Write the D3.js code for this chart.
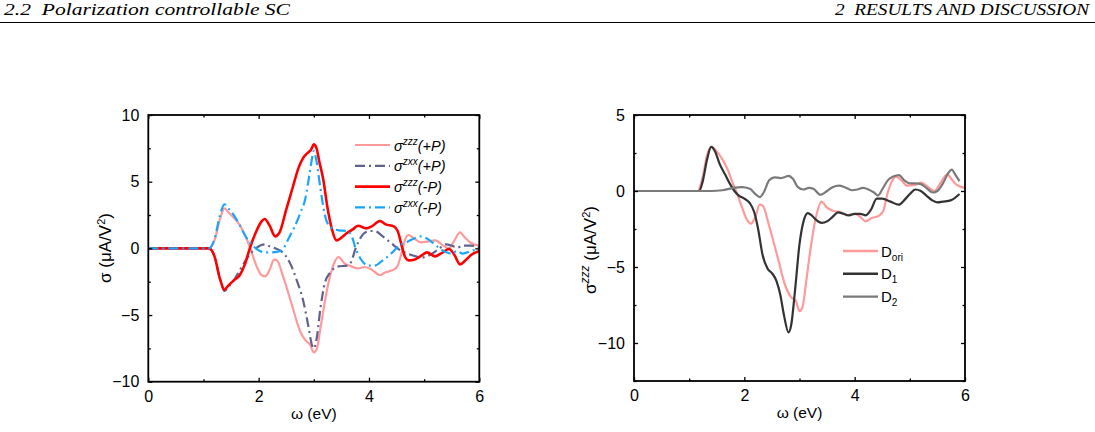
<!DOCTYPE html>
<html lang="en">
<head>
  <meta charset="UTF-8">
  <title>Polarization controllable SC</title>
  <script src="https://d3js.org/d3.v7.min.js"></script>
  <style>
    * { margin: 0; padding: 0; box-sizing: border-box; }
    body { background: #fff; font-family: "Liberation Sans", Arial, sans-serif; }
    svg text { font-family: "Liberation Sans", Arial, sans-serif; }
    .hdr { font-family: "Liberation Serif", "DejaVu Serif", serif; font-style: italic; font-size: 16.5px; white-space: pre; }
  </style>
</head>
<body>
  <svg id="fig" width="1095" height="432"></svg>
  <script>
    // ---- data: [omega (eV), sigma] ----
    const zzzPlusP = [[0,0],[1.1,0],[1.2,0.6],[1.3,2.2],[1.38,3.0],[1.45,2.7],[1.55,2.3],[1.65,1.8],[1.75,1.0],[1.85,0],[1.95,-1.2],[2.05,-2.0],[2.12,-2.1],[2.2,-1.6],[2.28,-0.85],[2.33,-0.9],[2.45,-2.2],[2.6,-4.2],[2.75,-6.2],[2.85,-6.9],[2.93,-7.2],[3.0,-7.8],[3.05,-7.6],[3.12,-6.0],[3.2,-4.0],[3.3,-2.0],[3.38,-1.0],[3.45,-0.65],[3.55,-1.1],[3.65,-1.3],[3.8,-1.5],[3.92,-1.4],[4.05,-1.6],[4.2,-2.0],[4.3,-1.8],[4.45,-1.6],[4.52,-1.3],[4.6,-0.2],[4.65,0.6],[4.72,1.0],[4.8,0.8],[4.95,0.45],[5.05,0.5],[5.2,0.6],[5.35,0.2],[5.45,0],[5.55,0.6],[5.65,1.2],[5.72,0.9],[5.85,0.4],[6.0,0.2]];
    const zxxPlusP = [[0,0],[1.1,0],[1.2,-0.6],[1.3,-2.3],[1.38,-3.2],[1.45,-2.9],[1.55,-2.4],[1.65,-1.7],[1.75,-1.0],[1.85,-0.4],[1.95,0],[2.05,0.25],[2.12,0.3],[2.2,0.15],[2.3,0],[2.4,-0.2],[2.48,-0.5],[2.58,-1.2],[2.7,-2.5],[2.8,-3.8],[2.9,-5.8],[2.97,-7.3],[3.0,-7.5],[3.05,-6.8],[3.12,-4.5],[3.2,-2.6],[3.3,-1.8],[3.45,-1.35],[3.6,-1.3],[3.68,-1.0],[3.75,-0.1],[3.85,0.8],[4.0,1.3],[4.1,1.3],[4.25,0.9],[4.4,0.4],[4.55,-0.1],[4.7,-0.4],[4.85,-0.6],[4.95,-0.7],[5.1,-0.5],[5.25,-0.1],[5.4,0.3],[5.5,0.2],[5.6,0.05],[5.7,0.2],[5.85,0.2],[6,0.05]];
    const zzzMinusP = [[0,0],[1.1,0],[1.2,-0.6],[1.3,-2.3],[1.38,-3.1],[1.45,-2.8],[1.55,-2.4],[1.66,-2.0],[1.75,-1.2],[1.84,0],[1.95,1.2],[2.05,2.0],[2.11,2.2],[2.2,1.7],[2.3,0.9],[2.38,1.2],[2.5,2.9],[2.62,4.6],[2.72,6.0],[2.81,6.8],[2.9,7.2],[2.95,7.4],[3.0,7.8],[3.05,7.5],[3.1,6.5],[3.17,5.2],[3.25,3.0],[3.33,1.4],[3.41,0.6],[3.5,0.8],[3.6,1.15],[3.7,1.4],[3.8,1.7],[3.95,1.5],[4.05,1.65],[4.2,2.05],[4.3,1.8],[4.45,1.65],[4.52,1.3],[4.6,0.1],[4.66,-0.7],[4.72,-0.9],[4.82,-0.85],[4.95,-0.55],[5.05,-0.3],[5.2,-0.6],[5.3,-0.4],[5.45,-0.05],[5.55,-0.5],[5.65,-1.2],[5.75,-0.9],[5.85,-0.5],[6,-0.2]];
    const zxxMinusP = [[0,0],[1.1,0],[1.2,0.7],[1.3,2.5],[1.38,3.3],[1.45,3.0],[1.55,2.5],[1.65,1.8],[1.75,1.0],[1.85,0.4],[1.95,0],[2.05,-0.25],[2.15,-0.3],[2.25,-0.3],[2.35,-0.25],[2.45,0],[2.55,0.8],[2.65,1.6],[2.75,2.6],[2.85,3.8],[2.92,5.5],[2.98,7.0],[3.0,7.3],[3.05,6.5],[3.12,4.5],[3.2,2.5],[3.3,1.6],[3.45,1.35],[3.6,1.3],[3.68,1.0],[3.75,0.1],[3.85,-0.8],[4.0,-1.3],[4.1,-1.3],[4.25,-0.9],[4.4,-0.4],[4.55,0.2],[4.7,0.5],[4.85,0.8],[4.95,0.9],[5.1,0.6],[5.25,0.1],[5.4,-0.3],[5.5,-0.4],[5.6,-0.2],[5.7,-0.4],[5.85,-0.2],[6,0]];

    const dOri = [[0,0],[1.15,0],[1.25,1.0],[1.32,2.3],[1.4,2.9],[1.5,2.6],[1.6,2.1],[1.7,1.4],[1.78,0.6],[1.85,0],[1.95,-1.0],[2.05,-1.9],[2.12,-2.15],[2.2,-1.7],[2.28,-0.9],[2.33,-0.95],[2.45,-2.3],[2.6,-4.3],[2.75,-6.3],[2.85,-7.0],[2.93,-7.2],[3.0,-7.9],[3.05,-7.7],[3.12,-6.0],[3.2,-3.8],[3.3,-1.7],[3.4,-0.7],[3.5,-1.1],[3.6,-1.3],[3.75,-1.4],[3.85,-1.6],[4.0,-1.5],[4.1,-1.7],[4.2,-2.0],[4.3,-1.8],[4.45,-1.6],[4.52,-1.3],[4.6,-0.1],[4.67,0.6],[4.75,0.95],[4.85,0.7],[4.95,0.35],[5.1,0.4],[5.2,0.55],[5.35,0.2],[5.45,0],[5.55,0.5],[5.68,1.1],[5.75,0.8],[5.85,0.4],[6,0.2]];
    const d1 = [[0,0],[1.18,0],[1.25,0.7],[1.32,2.0],[1.4,2.9],[1.47,2.6],[1.55,1.8],[1.65,1.1],[1.75,0.4],[1.82,0],[1.9,-0.3],[2.0,-0.5],[2.1,-0.8],[2.18,-1.4],[2.25,-2.5],[2.33,-4.2],[2.42,-5.1],[2.5,-5.4],[2.58,-5.9],[2.65,-6.8],[2.72,-8.2],[2.8,-9.3],[2.85,-8.8],[2.92,-6.5],[3.0,-3.5],[3.08,-1.9],[3.15,-1.45],[3.22,-1.6],[3.3,-1.9],[3.4,-2.1],[3.5,-2.0],[3.6,-1.7],[3.7,-1.4],[3.8,-1.5],[3.9,-1.6],[4.0,-1.5],[4.1,-1.5],[4.2,-1.6],[4.3,-1.2],[4.4,-0.5],[4.5,-0.5],[4.65,-0.7],[4.8,-0.9],[4.9,-0.6],[5.0,-0.2],[5.1,0.1],[5.2,0],[5.3,-0.3],[5.4,-0.6],[5.5,-0.75],[5.6,-0.7],[5.75,-0.6],[5.9,-0.2]];
    const d2 = [[0,0],[1.4,0],[1.6,0.05],[1.8,0.2],[1.95,0.25],[2.1,0.15],[2.2,-0.2],[2.28,-0.4],[2.35,-0.1],[2.45,0.7],[2.55,0.9],[2.65,0.85],[2.72,0.9],[2.8,1.0],[2.88,0.8],[2.97,0.25],[3.07,0.1],[3.17,0.2],[3.25,0.15],[3.38,-0.25],[3.5,0],[3.6,0.25],[3.72,0.35],[3.82,0.25],[3.95,0.05],[4.05,0.1],[4.15,0.2],[4.25,0.1],[4.35,-0.1],[4.42,-0.3],[4.5,0.1],[4.6,0.7],[4.7,0.95],[4.8,1.05],[4.9,0.7],[5.0,0.5],[5.1,0.5],[5.2,0.45],[5.3,0.2],[5.42,-0.1],[5.5,0],[5.6,0.5],[5.7,1.2],[5.76,1.4],[5.82,1.1],[5.9,0.65]];

    const xTicks = [0, 2, 4, 6];
    const leftYTicks = [-10, -5, 0, 5, 10];
    const rightYTicks = [-10, -5, 0, 5];

    const svg = d3.select("#fig");

    // page header
    svg.append("text").attr("class", "hdr").attr("x", 4).attr("y", 15)
      .attr("textLength", 286).attr("lengthAdjust", "spacingAndGlyphs").text("2.2  Polarization controllable SC");
    svg.append("text").attr("class", "hdr").attr("x", 835).attr("y", 15)
      .attr("textLength", 254).attr("lengthAdjust", "spacingAndGlyphs").text("2  RESULTS AND DISCUSSION");
    svg.append("line").attr("x1", 0).attr("x2", 1095).attr("y1", 22.5).attr("y2", 22.5).attr("stroke", "#000").attr("stroke-width", 1);

    function panel(box, yDomain, yTicks, yMinor, series) {
      const x = d3.scaleLinear().domain([0, 6]).range([box.x0, box.x1]);
      const y = d3.scaleLinear().domain(yDomain).range([box.y1, box.y0]);
      const g = svg.append("g");

      const line = d3.line().x(d => x(d[0])).y(d => y(d[1])).curve(d3.curveMonotoneX);
      const clipId = "clip" + Math.round(box.x0);
      svg.append("clipPath").attr("id", clipId).append("rect")
        .attr("x", box.x0).attr("y", box.y0).attr("width", box.x1 - box.x0).attr("height", box.y1 - box.y0);

      series.forEach(s => {
        g.append("path").datum(s.data)
          .attr("d", line)
          .attr("clip-path", `url(#${clipId})`)
          .attr("fill", "none")
          .attr("stroke", s.color)
          .attr("stroke-width", s.width)
          .attr("stroke-linejoin", "round")
          .attr("stroke-dasharray", s.dash || null);
      });

      const xMinor = [1, 3, 5];
      // all four sides, ticks pointing inward
      g.append("g").attr("transform", `translate(0,${box.y1})`)
        .call(d3.axisBottom(x).tickValues(xTicks).tickSize(-4).tickPadding(9).tickFormat(d3.format("d")));
      g.append("g").attr("transform", `translate(0,${box.y1})`)
        .call(d3.axisBottom(x).tickValues(xMinor).tickSize(-2.5).tickFormat(""));
      g.append("g").attr("transform", `translate(0,${box.y0})`)
        .call(d3.axisTop(x).tickValues(xTicks).tickSize(-4).tickFormat(""));
      g.append("g").attr("transform", `translate(0,${box.y0})`)
        .call(d3.axisTop(x).tickValues(xMinor).tickSize(-2.5).tickFormat(""));
      g.append("g").attr("transform", `translate(${box.x0},0)`)
        .call(d3.axisLeft(y).tickValues(yTicks).tickSize(-4).tickPadding(9).tickFormat(d => d < 0 ? "\u2212" + Math.abs(d) : d));
      g.append("g").attr("transform", `translate(${box.x0},0)`)
        .call(d3.axisLeft(y).tickValues(yMinor).tickSize(-2.5).tickFormat(""));
      g.append("g").attr("transform", `translate(${box.x1},0)`)
        .call(d3.axisRight(y).tickValues(yTicks).tickSize(-4).tickFormat(""));
      g.append("g").attr("transform", `translate(${box.x1},0)`)
        .call(d3.axisRight(y).tickValues(yMinor).tickSize(-2.5).tickFormat(""));

      g.selectAll(".domain").remove();
      g.selectAll(".tick line").attr("stroke", "#000").attr("stroke-width", 1.3);
      g.selectAll(".tick text").attr("fill", "#000").style("font-size", "16px");

      g.append("rect").attr("x", box.x0).attr("y", box.y0)
        .attr("width", box.x1 - box.x0).attr("height", box.y1 - box.y0)
        .attr("fill", "none").attr("stroke", "#000").attr("stroke-width", 1.8);

      g.append("text").attr("x", (box.x0 + box.x1) / 2).attr("y", box.y1 + 37)
        .attr("text-anchor", "middle").style("font-size", "15.5px").text("\u03c9 (eV)");

      return { x, y, g };
    }

    panel({ x0: 148.3, x1: 479.3, y0: 115, y1: 381.7 }, [-10, 10], leftYTicks, [-7.5, -2.5, 2.5, 7.5], [
      { data: zzzPlusP, color: "#ff9a9a", width: 2.2 },
      { data: zxxPlusP, color: "#62628f", width: 2.2, dash: "10,4,2,4" },
      { data: zzzMinusP, color: "#ff0000", width: 2.6 },
      { data: zxxMinusP, color: "#1aa6ff", width: 2.2, dash: "10,4,2,4" }
    ]);

    panel({ x0: 634, x1: 965, y0: 115, y1: 381 }, [-12.5, 5], rightYTicks, [-12.5, -7.5, -2.5, 2.5], [
      { data: dOri, color: "#ff9a9a", width: 2.2 },
      { data: d1, color: "#333333", width: 2.2 },
      { data: d2, color: "#7a7a7a", width: 2.2 }
    ]);

    // y labels
    const yl = svg.append("text").attr("transform", "translate(111,248) rotate(-90)")
      .attr("text-anchor", "middle").style("font-size", "17px");
    yl.append("tspan").text("\u03c3 (\u03bcA/V");
    yl.append("tspan").attr("baseline-shift", "super").style("font-size", "11px").text("2");
    yl.append("tspan").text(")");

    const yr = svg.append("text").attr("transform", "translate(596,250) rotate(-90)")
      .attr("text-anchor", "middle").style("font-size", "17px");
    yr.append("tspan").text("\u03c3");
    yr.append("tspan").attr("baseline-shift", "super").style("font-size", "12px").style("font-style", "italic").text("zzz");
    yr.append("tspan").text(" (\u03bcA/V");
    yr.append("tspan").attr("baseline-shift", "super").style("font-size", "11px").text("2");
    yr.append("tspan").text(")");

    // left legend
    const legL = [
      { sup: "zzz", tail: "(+P)", color: "#ff9a9a", width: 2.2 },
      { sup: "zxx", tail: "(+P)", color: "#62628f", width: 2.2, dash: "10,4,2,4" },
      { sup: "zzz", tail: "(-P)", color: "#ff0000", width: 2.6 },
      { sup: "zxx", tail: "(-P)", color: "#1aa6ff", width: 2.2, dash: "10,4,2,4" }
    ];
    legL.forEach((d, i) => {
      const yy = 145 + i * 20.8;
      svg.append("line").attr("x1", 355).attr("x2", 390).attr("y1", yy).attr("y2", yy)
        .attr("stroke", d.color).attr("stroke-width", d.width).attr("stroke-dasharray", d.dash || null);
      const t = svg.append("text").attr("x", 394).attr("y", yy + 5.5).style("font-size", "14.5px").style("font-style", "italic");
      t.append("tspan").text("\u03c3");
      t.append("tspan").attr("dy", -6).style("font-size", "10px").text(d.sup);
      t.append("tspan").attr("dy", 6).text(d.tail);
    });

    // right legend
    const legR = [
      { sub: "ori", color: "#ff9a9a" },
      { sub: "1", color: "#333333" },
      { sub: "2", color: "#7a7a7a" }
    ];
    legR.forEach((d, i) => {
      const yy = 251 + i * 22.8;
      svg.append("line").attr("x1", 843).attr("x2", 878).attr("y1", yy).attr("y2", yy)
        .attr("stroke", d.color).attr("stroke-width", 2.4);
      const t = svg.append("text").attr("x", 881).attr("y", yy + 5.5).style("font-size", "15px");
      t.append("tspan").text("D");
      t.append("tspan").attr("dy", 4).style("font-size", "10px").text(d.sub);
    });
  </script>
</body>
</html>
